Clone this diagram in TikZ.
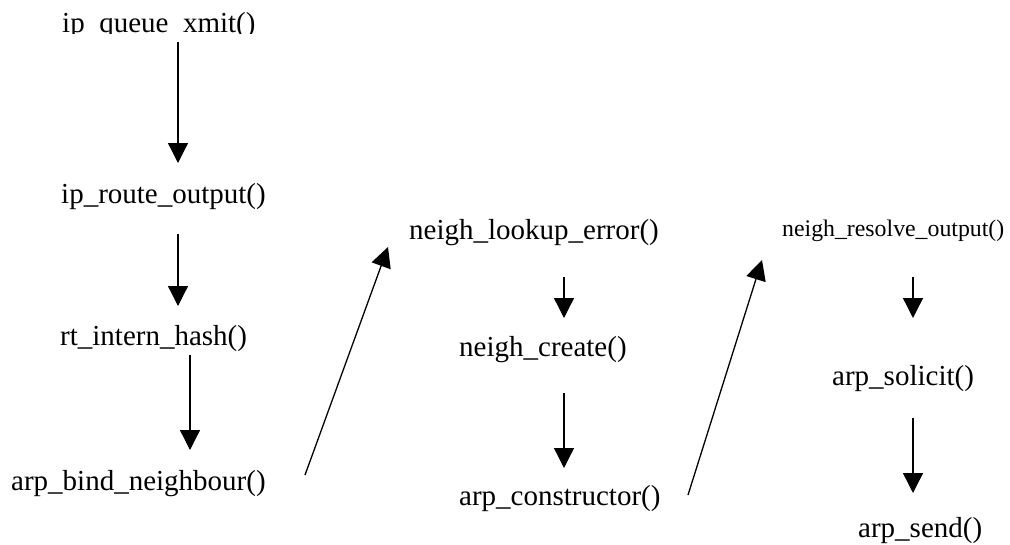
\documentclass[tikz,border=0pt]{standalone}
\usepackage{fontspec}
\setmainfont{Liberation Serif}
\usetikzlibrary{arrows.meta}
\begin{document}
\begin{tikzpicture}[x=1pt,y=-1pt,
  lbl/.style={anchor=base west,inner sep=0pt,font=\fontsize{29}{34}\selectfont},
  lblsmall/.style={anchor=base west,inner sep=0pt,font=\fontsize{23.8}{28}\selectfont},
  arr/.style={line width=1.3pt,-{Triangle[length=20pt,width=20pt]}}]
\useasboundingbox[fill=white] (0,0) rectangle (1010,544);
% nodes
\begin{scope}
\clip (0,0) rectangle (1010,33.5);
\node[lbl] (qx) at (62,32.5) {ip\_queue\_xmit()};
\end{scope}
\node[lbl] (ro) at (61,203) {ip\_route\_output()};
\node[lbl] (rh) at (60,345) {rt\_intern\_hash()};
\node[lbl] (bn) at (11,490) {arp\_bind\_neighbour()};
\node[lbl] (le) at (409,239) {neigh\_lookup\_error()};
\node[lbl] (nc) at (459,356) {neigh\_create()};
\node[lbl] (ac) at (459,505) {arp\_constructor()};
\node[lblsmall] (rs) at (782,236) {neigh\_resolve\_output()};
\node[lbl] (so) at (832,385) {arp\_solicit()};
\node[lbl] (se) at (858,537) {arp\_send()};
% connector end points
\coordinate (a1s) at (178,42);  \coordinate (a1e) at (178,163);
\coordinate (a2s) at (178,234); \coordinate (a2e) at (178,306);
\coordinate (a3s) at (190,355); \coordinate (a3e) at (190,450);
\coordinate (d1s) at (305,475); \coordinate (d1e) at (388,247);
\coordinate (a4s) at (564,277); \coordinate (a4e) at (564,318);
\coordinate (a5s) at (564,393); \coordinate (a5e) at (564,468);
\coordinate (d2s) at (688,495); \coordinate (d2e) at (762,260);
\coordinate (a6s) at (913,277); \coordinate (a6e) at (913,318);
\coordinate (a7s) at (913,418); \coordinate (a7e) at (913,493);
% connectors
\draw[arr] (a1s) -- (a1e);
\draw[arr] (a2s) -- (a2e);
\draw[arr] (a3s) -- (a3e);
\draw[arr] (d1s) -- (d1e);
\draw[arr] (a4s) -- (a4e);
\draw[arr] (a5s) -- (a5e);
\draw[arr] (d2s) -- (d2e);
\draw[arr] (a6s) -- (a6e);
\draw[arr] (a7s) -- (a7e);
\end{tikzpicture}
\end{document}
